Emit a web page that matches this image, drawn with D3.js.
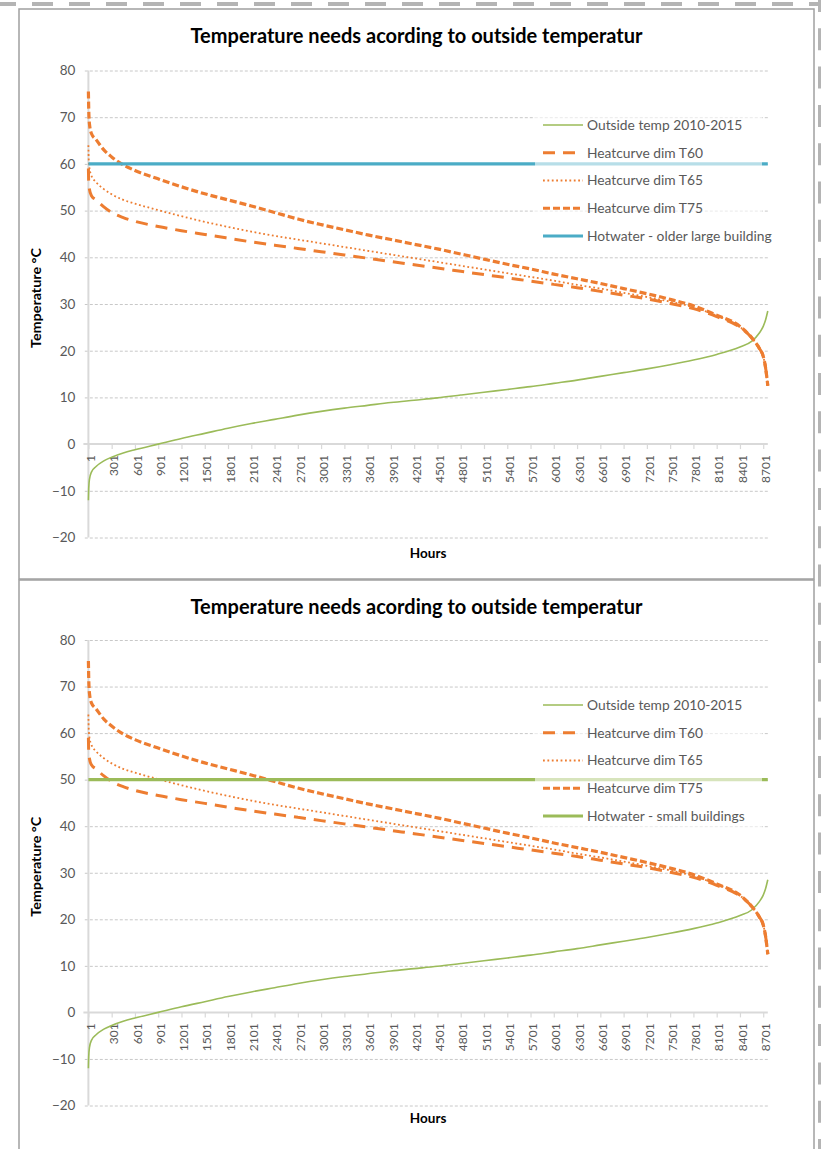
<!DOCTYPE html>
<html>
<head>
<meta charset="utf-8">
<script src="https://cdn.jsdelivr.net/npm/d3@7"></script>
<style>
  html, body { margin: 0; padding: 0; background: #ffffff; }
  svg { display: block; }
  text { font-family: Lato, "Open Sans", sans-serif; }
</style>
</head>
<body>
<svg id="chart" width="821" height="1149"></svg>
<script>
// ---------- DATA ----------
const hours = [1,5,15,40,100,200,301,450,601,901,1201,1501,1801,2101,2401,2701,3001,3301,3601,3901,4201,4501,4801,5101,5401,5701,6001,6301,6601,6901,7201,7501,7801,8101,8401,8551,8651,8701,8730,8760];
const outsideTemp = [-12,-9.5,-7.5,-6,-4.8,-3.6,-2.8,-1.9,-1.2,0,1.2,2.3,3.4,4.4,5.3,6.2,7.0,7.7,8.3,8.9,9.4,9.9,10.5,11.1,11.7,12.3,13.0,13.7,14.5,15.3,16.1,17.0,18.0,19.2,20.8,22.0,23.8,25.2,26.5,28.5];
const heatT60 = [59,56,54.5,53.2,52.3,50.8,49.6,48.5,47.7,46.6,45.7,44.9,44.1,43.3,42.6,41.9,41.2,40.5,39.8,39.1,38.4,37.7,37.0,36.3,35.6,34.9,34.2,33.5,32.7,31.9,31.1,30.1,29.0,27.3,25.0,22.8,20.5,18.8,16.5,12.5];
const heatT65 = [64,61,59,57.5,56.1,54.6,53.5,52.3,51.5,50.1,48.8,47.6,46.5,45.5,44.6,43.8,43.0,42.2,41.4,40.6,39.8,39.0,38.2,37.4,36.6,35.8,35.0,34.1,33.3,32.4,31.5,30.5,29.3,27.5,25.1,22.8,20.5,18.8,16.5,12.5];
const heatT75 = [75.5,72,68.5,66.5,65.2,63.0,61.5,59.8,58.6,56.8,55.1,53.6,52.3,51.0,49.6,48.2,47.0,45.9,44.8,43.8,42.8,41.8,40.7,39.6,38.5,37.5,36.4,35.4,34.4,33.3,32.2,31.0,29.6,27.6,25.2,22.8,20.5,18.8,16.5,12.5];
const hotwaterHours = [1, 8760];
const hotwaterLarge = [60, 60];
const hotwaterSmall = [50, 50];

const xTicks = [1,301,601,901,1201,1501,1801,2101,2401,2701,3001,3301,3601,3901,4201,4501,4801,5101,5401,5701,6001,6301,6601,6901,7201,7501,7801,8101,8401,8701];
const yTicks = [80,70,60,50,40,30,20,10,0,-10,-20];

const chartTitle = "Temperature needs acording to outside temperatur";
const xTitle = "Hours";
const yTitle = "Temperature °C";
const seriesNames = ["Outside temp 2010-2015", "Heatcurve dim T60", "Heatcurve dim T65", "Heatcurve dim T75"];
const hotwaterNames = ["Hotwater - older large building", "Hotwater - small buildings"];

// ---------- STYLE ----------
const ORANGE = "#ed7d31", GREEN = "#9bbb59", BLUE = "#4bacc6";
const TXT = "#595959";

const svg = d3.select("#chart");

// outer dashed frame
svg.append("line").attr("x1", -5).attr("x2", 821).attr("y1", 4).attr("y2", 4)
  .attr("stroke", "#b4b4b4").attr("stroke-width", 4).attr("stroke-dasharray", "21,16");
svg.append("line").attr("x1", 819.5).attr("x2", 819.5).attr("y1", -10).attr("y2", 1149)
  .attr("stroke", "#b4b4b4").attr("stroke-width", 3).attr("stroke-dasharray", "22,16.3");

const layouts = [
  { box: [19, 9, 795, 570], y80: 70.5, yM20: 537.5, titleY: 43, hoursY: 557.5, legendY: 125,
    hot: hotwaterLarge, hotName: hotwaterNames[0], hotColor: BLUE },
  { box: [19, 580, 795, 620], y80: 640, yM20: 1105.5, titleY: 613.5, hoursY: 1123, legendY: 705,
    hot: hotwaterSmall, hotName: hotwaterNames[1], hotColor: GREEN }
];

const X0 = 88.4, X1 = 767.8;

layouts.forEach(L => {
  const g = svg.append("g");
  g.append("rect").attr("x", L.box[0]).attr("y", L.box[1]).attr("width", L.box[2]).attr("height", L.box[3])
    .attr("fill", "none").attr("stroke", "#a0a0a0").attr("stroke-width", 1.5);

  const x = d3.scaleLinear().domain([1, 8760]).range([X0, X1]);
  const y = d3.scaleLinear().domain([-20, 80]).range([L.yM20, L.y80]);

  // gridlines
  const grid = g.append("g").attr("transform", `translate(${X1},0)`)
    .call(d3.axisLeft(y).tickValues(yTicks.filter(v => v !== 0)).tickSize(X1 - X0 + 5).tickFormat(""));
  grid.select(".domain").remove();
  grid.selectAll(".tick line").attr("stroke", "#c8c8c8").attr("stroke-width", 1).attr("stroke-dasharray", "3,2");

  // y labels
  const ya = g.append("g").attr("transform", `translate(${X0},0)`)
    .call(d3.axisLeft(y).tickValues(yTicks).tickSize(0).tickPadding(13));
  ya.select(".domain").remove();
  ya.selectAll("text").attr("fill", TXT).style("font-size", "13.5px").style("font-family", "Lato");

  // y axis line
  g.append("line").attr("x1", X0).attr("x2", X0).attr("y1", y(80)).attr("y2", y(-20))
    .attr("stroke", "#d9d9d9").attr("stroke-width", 2);

  // x axis
  const xa = g.append("g").attr("transform", `translate(0,${y(0)})`)
    .call(d3.axisBottom(x).tickValues(xTicks).tickSize(5).tickFormat(d => String(d)));
  xa.select(".domain").attr("d", `M${X0 - 5},0H${X1}`).attr("stroke", "#d9d9d9").attr("stroke-width", 2);
  xa.selectAll(".tick line").attr("stroke", "#d9d9d9").attr("stroke-width", 1.2);
  xa.selectAll("text")
    .attr("fill", TXT).style("font-size", "12px").style("font-family", "Lato")
    .attr("transform", "rotate(-90)").attr("x", -11).attr("y", 2).attr("dy", "0.35em")
    .style("text-anchor", "end");

  const line = d3.line().x(d => x(d[0])).y(d => y(d[1])).curve(d3.curveMonotoneX);
  const zip = arr => hours.map((h, i) => [h, arr[i]]);

  // series
  const series = [
    { data: zip(outsideTemp), color: GREEN, width: 1.6, dash: null, name: seriesNames[0] },
    { data: zip(heatT60), color: ORANGE, width: 3, dash: "12,8", name: seriesNames[1] },
    { data: zip(heatT65), color: ORANGE, width: 1.8, dash: "1.8,2.6", name: seriesNames[2] },
    { data: zip(heatT75), color: ORANGE, width: 3.2, dash: "7,3", name: seriesNames[3] },
    { data: hotwaterHours.map((h, i) => [h, L.hot[i]]), color: L.hotColor, width: 3.2, dash: null, name: L.hotName }
  ];
  series.forEach(s => {
    g.append("path").datum(s.data).attr("d", line).attr("fill", "none")
      .attr("stroke", s.color).attr("stroke-width", s.width)
      .attr("stroke-dasharray", s.dash);
  });

  // legend (semi transparent box)
  const ly = L.legendY, step = 27.75;
  g.append("rect").attr("x", 535).attr("y", ly - 13).attr("width", 227).attr("height", step * 4 + 26)
    .attr("fill", "#ffffff").attr("fill-opacity", 0.6);
  series.forEach((s, i) => {
    const yy = ly + i * step;
    g.append("line").attr("x1", 543).attr("x2", 583).attr("y1", yy).attr("y2", yy)
      .attr("stroke", s.color).attr("stroke-width", s.width).attr("stroke-dasharray", s.dash);
    g.append("text").attr("x", 587).attr("y", yy).attr("dy", "0.35em")
      .attr("fill", TXT).style("font-size", "13.8px").text(s.name);
  });

  // titles
  g.append("text").attr("x", 416.5).attr("y", L.titleY).attr("text-anchor", "middle")
    .style("font-size", "20px").style("font-weight", "bold").attr("fill", "#000").text(chartTitle);
  g.append("text").attr("x", (X0 + X1) / 2).attr("y", L.hoursY).attr("text-anchor", "middle")
    .style("font-size", "13.5px").style("font-weight", "bold").attr("fill", "#000").text(xTitle);
  g.append("text").attr("transform", `translate(41,${(L.y80 + L.yM20) / 2 - 6}) rotate(-90)`)
    .attr("text-anchor", "middle").style("font-size", "13.5px").style("font-weight", "bold")
    .attr("textLength", 100).attr("lengthAdjust", "spacingAndGlyphs")
    .attr("fill", "#000").text(yTitle);
});
</script>
</body>
</html>
